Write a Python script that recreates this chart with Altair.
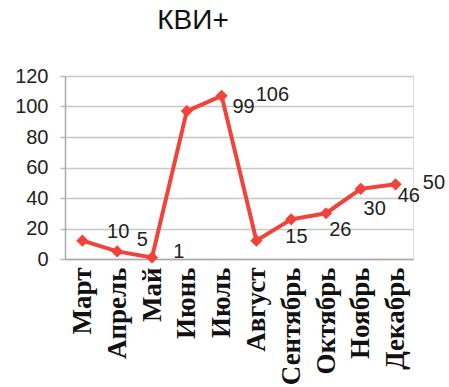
import altair as alt
import pandas as pd

months = ["Март", "Апрель", "Май", "Июнь", "Июль", "Август",
          "Сентябрь", "Октябрь", "Ноябрь", "Декабрь"]
values = [12, 5, 1, 97, 107, 12, 26, 30, 46, 49]

label_texts = ["10", "5", "1", "99", "106", "15", "26", "30", "46", "50"]
label_x = [1.03, 1.72, 2.77, 4.63, 5.46, 6.15, 7.41, 8.40, 9.38, 10.1]
label_y = [17.4, 12.4, 4.6, 100, 107.7, 14.7, 19, 33, 41.6, 50]

df = pd.DataFrame({"idx": list(range(len(months))), "month": months, "value": values})
lab = pd.DataFrame({"x": label_x, "y": label_y, "t": label_texts})

names_js = "[" + ",".join('"%s"' % m for m in months) + "]"

xscale = alt.Scale(domain=[-0.5, 9.5], nice=False, zero=False)
yscale = alt.Scale(domain=[0, 120], nice=False)

x_axis = alt.Axis(
    values=list(range(len(months))),
    labelExpr=names_js + "[datum.value]",
    labelAngle=270, labelAlign="right", labelBaseline="middle",
    labelFont="Liberation Serif", labelFontWeight="bold", labelFontSize=27,
    labelColor="#111", labelPadding=8, ticks=False, grid=False,
    domainColor="#aaa", domainWidth=1.5, title=None, labelOverlap=False,
    labelBound=False, labelFlush=False,
)
y_axis = alt.Axis(
    values=[0, 20, 40, 60, 80, 100, 120],
    labelFont="Liberation Sans", labelFontSize=20, labelColor="#222",
    labelPadding=12, tickSize=5, tickColor="#bbb", tickWidth=1.5,
    gridColor="#c8c8c8", gridWidth=1.5, domainColor="#aaa", domainWidth=1.5,
    title=None, labelOverlap=False, labelFlush=False,
)

base = alt.Chart(df)
line = base.mark_line(color="#F2433A", strokeWidth=4).encode(
    x=alt.X("idx:Q", scale=xscale, axis=x_axis),
    y=alt.Y("value:Q", scale=yscale, axis=y_axis),
)
pts = base.mark_point(shape="diamond", filled=True, size=150, color="#F2433A", opacity=1).encode(
    x=alt.X("idx:Q", scale=xscale, axis=x_axis),
    y=alt.Y("value:Q", scale=yscale, axis=y_axis),
)
txt = alt.Chart(lab).mark_text(
    font="Liberation Sans", fontSize=20, color="#222", clip=False
).encode(
    x=alt.X("x:Q", scale=xscale, axis=x_axis),
    y=alt.Y("y:Q", scale=yscale, axis=y_axis),
    text="t:N",
)

chart = alt.layer(line, pts, txt).properties(
    width=348, height=183,
    title=alt.TitleParams("КВИ+", font="Liberation Sans", fontSize=28,
                          fontWeight="normal", color="#111", anchor="middle",
                          dx=-46, offset=31),
    autosize=alt.AutoSizeParams(type="none"),
    padding={"left": 65, "top": 76, "right": 36, "bottom": 128},
).configure_view(strokeWidth=0).configure(background="white")

chart.save("out.html", embed_options={"renderer": "svg", "actions": False})
